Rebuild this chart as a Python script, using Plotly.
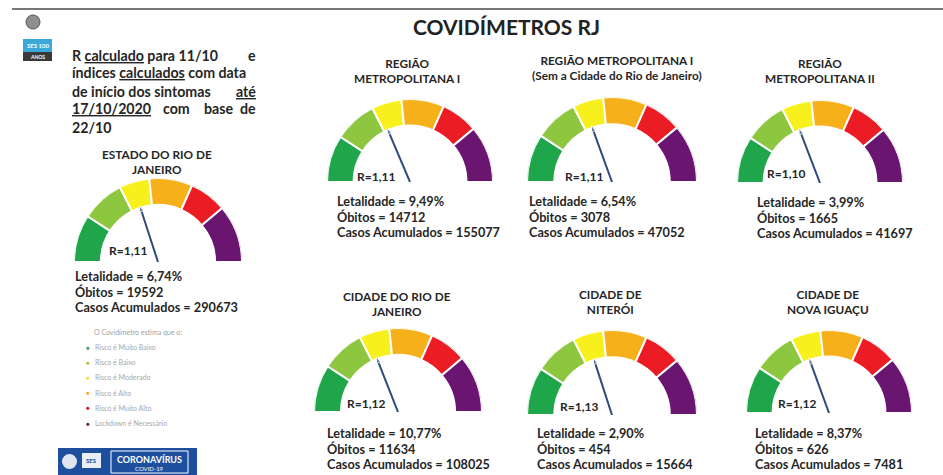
import plotly.graph_objects as go

W, H = 943, 475

# ---------------- data ----------------
titulos = [
    "ESTADO DO RIO DE<br>JANEIRO",
    "REGIÃO<br>METROPOLITANA I",
    "REGIÃO METROPOLITANA I<br>(Sem a Cidade do Rio de Janeiro)",
    "REGIÃO<br>METROPOLITANA II",
    "CIDADE DO RIO DE<br>JANEIRO",
    "CIDADE DE<br>NITERÓI",
    "CIDADE DE<br>NOVA IGUAÇU",
]
r_valores = [1.11, 1.11, 1.11, 1.10, 1.12, 1.13, 1.12]
letalidade = [6.74, 9.49, 6.54, 3.99, 10.77, 2.90, 8.37]
obitos = [19592, 14712, 3078, 1665, 11634, 454, 626]
casos = [290673, 155077, 47052, 41697, 108025, 15664, 7481]
ponteiro_graus = [108, 113, 110, 111, 111.5, 108, 110]  # needle direction

faixas = ["Risco é Muito Baixo", "Risco é Baixo", "Risco é Moderado",
          "Risco é Alto", "Risco é Muito Alto", "Lockdown é Necessário"]
faixa_inicio = [180, 147, 117, 96, 66, 40]
faixa_fim = [147, 117, 96, 66, 40, 0]

# ---------------- styles / layout ----------------
cores = ["#1fa64a", "#8dc63f", "#f8f01c", "#f6b11a", "#ec1c24", "#6a1570"]
cores_legenda = ["#2a9d6a", "#9bc53d", "#f1e53a", "#f5a623", "#d0021b", "#3c1a4a"]
FONT = "Lato"
TXT = "#262626"

# gauge geometry: (cx, cy, R, title_x, title_y(mid), stats_x, stats_y(first), rlab_x, rlab_y)
geo = [
    (158, 262, 84, 157, 162, 73, 276, 128, 250),
    (410, 182, 83, 407, 71, 335, 201, 376, 176),
    (612, 182, 85, 617, 68, 527, 201, 584, 176),
    (820, 183, 83, 820, 71, 755, 202, 786, 173),
    (398, 412, 84, 397, 304, 325, 433, 366, 403),
    (612, 415, 85, 610, 302, 535, 433, 579, 406),
    (829, 413, 83, 828, 302, 753, 433, 797, 403),
]
LINE_STEP = 15.5


def px(x):
    return x / W


def py(y):
    return 1 - y / H


def fmt(v, d=2):
    return f"{v:.{d}f}".replace(".", ",")


fig = go.Figure()
annotations = []
shapes = []

centros = [(a + b) / 2 for a, b in zip(faixa_inicio, faixa_fim)]
larguras = [a - b for a, b in zip(faixa_inicio, faixa_fim)]

for i, (cx, cy, R, tx, ty, sx, sy, rx, ry) in enumerate(geo):
    pname = "polar" if i == 0 else f"polar{i+1}"
    fig.add_trace(go.Barpolar(
        r=[0.32] * len(faixas), base=[0.68] * len(faixas),
        theta=centros, width=larguras,
        marker=dict(color=cores, line=dict(color="white", width=2)),
        name="", showlegend=False, hoverinfo="skip", subplot=pname,
    ))
    a = ponteiro_graus[i]
    fig.add_trace(go.Scatterpolar(
        r=[0, 0.71], theta=[a, a], mode="lines+markers",
        line=dict(color="#2e4b7d", width=2),
        marker=dict(symbol="arrow", size=[0, 7], color="#2e4b7d", angleref="previous"),
        showlegend=False, hoverinfo="skip", subplot=pname,
    ))
    fig.update_layout(**{pname: dict(
        domain=dict(x=[px(cx - R), px(cx + R)], y=[py(cy), py(cy - R)]),
        sector=[0, 180], bgcolor="rgba(0,0,0,0)",
        radialaxis=dict(visible=False, range=[0, 1]),
        angularaxis=dict(visible=False),
    )})
    annotations.append(dict(x=px(tx), y=py(ty), text=f"<b>{titulos[i]}</b>",
                            xanchor="center", yanchor="middle", showarrow=False,
                            font=dict(family=FONT, size=11.8, color=TXT), align="center"))
    linhas = [f"<b>Letalidade = {fmt(letalidade[i])}%</b>",
              f"<b>Óbitos = {obitos[i]}</b>",
              f"<b>Casos Acumulados = {casos[i]}</b>"]
    for k, t in enumerate(linhas):
        annotations.append(dict(x=px(sx), y=py(sy + LINE_STEP * k), text=t,
                                xanchor="left", yanchor="middle", showarrow=False,
                                font=dict(family=FONT, size=12.7, color=TXT)))
    annotations.append(dict(x=px(rx), y=py(ry), text=f"<b>R={fmt(r_valores[i])}</b>",
                            xanchor="center", yanchor="middle", showarrow=False,
                            font=dict(family=FONT, size=12, color=TXT)))

# main title
annotations.append(dict(x=px(506), y=py(26), text="<b>COVIDÍMETROS RJ</b>",
                        xanchor="center", yanchor="middle", showarrow=False,
                        font=dict(family=FONT, size=21, color="#222")))

# left paragraph (justified by hand)
pf = dict(family=FONT, size=14.2, color=TXT)
par = [
    (70, 55, "left", "<b>R <u>calculado</u> para 11/10</b>"),
    (258, 55, "right", "<b>e</b>"),
    (70, 73, "left", "<b>índices <u>calculados</u> com data</b>"),
    (70, 91, "left", "<b>de início dos sintomas</b>"),
    (258, 91, "right", "<b><u>até</u></b>"),
    (70, 109, "left", "<b><u>17/10/2020</u></b>"),
    (176, 109, "center", "<b>com</b>"),
    (218, 109, "center", "<b>base</b>"),
    (258, 109, "right", "<b>de</b>"),
    (70, 127, "left", "<b>22/10</b>"),
]
for x, y, anc, t in par:
    annotations.append(dict(x=px(x), y=py(y), text=t, xanchor=anc, yanchor="middle",
                            showarrow=False, font=pf))

# small legend bottom-left
annotations.append(dict(x=px(138), y=py(332), text="O Covidímetro estima que o:",
                        xanchor="center", yanchor="middle", showarrow=False,
                        font=dict(family=FONT, size=7, color="#a0a0a0")))
for k, nome in enumerate(faixas):
    yy = 347 + 15.2 * k
    annotations.append(dict(x=px(88), y=py(yy), text="●", xanchor="center", yanchor="middle",
                            showarrow=False, font=dict(family=FONT, size=6, color=cores_legenda[k])))
    annotations.append(dict(x=px(93), y=py(yy), text=nome, xanchor="left", yanchor="middle",
                            showarrow=False, font=dict(family=FONT, size=7, color="#a8a8a8")))

# top rule
shapes.append(dict(type="line", xref="paper", yref="paper", x0=px(12), x1=px(943),
                   y0=py(9), y1=py(9), line=dict(color="#4a4a4a", width=1.5)))
# top-left emblem + logo
shapes.append(dict(type="circle", xref="paper", yref="paper", x0=px(26), x1=px(40),
                   y0=py(29), y1=py(15), fillcolor="#8f8f8f", line=dict(color="#555", width=1)))
shapes.append(dict(type="rect", xref="paper", yref="paper", x0=px(23), x1=px(52),
                   y0=py(52), y1=py(39), fillcolor="#3aa8d8", line=dict(width=0)))
shapes.append(dict(type="rect", xref="paper", yref="paper", x0=px(23), x1=px(52),
                   y0=py(61), y1=py(52), fillcolor="#3a3a3a", line=dict(width=0)))
annotations.append(dict(x=px(37.5), y=py(45.5), text="<b>SES 100</b>", showarrow=False,
                        xanchor="center", yanchor="middle",
                        font=dict(family=FONT, size=6, color="white")))
annotations.append(dict(x=px(37.5), y=py(56.5), text="<b>ANOS</b>", showarrow=False,
                        xanchor="center", yanchor="middle",
                        font=dict(family=FONT, size=5, color="white")))

# bottom logo banner
shapes.append(dict(type="rect", xref="paper", yref="paper", x0=px(58), x1=px(197),
                   y0=py(475), y1=py(448), fillcolor="#1d4f9e", line=dict(width=0)))
shapes.append(dict(type="circle", xref="paper", yref="paper", x0=px(62), x1=px(77),
                   y0=py(469), y1=py(454), fillcolor="#dfe6f1", line=dict(width=0)))
shapes.append(dict(type="rect", xref="paper", yref="paper", x0=px(82), x1=px(101),
                   y0=py(468), y1=py(453), fillcolor="#e9eef7", line=dict(width=0)))
shapes.append(dict(type="rect", xref="paper", yref="paper", x0=px(111), x1=px(188),
                   y0=py(473), y1=py(451), fillcolor="rgba(0,0,0,0)",
                   line=dict(color="white", width=1)))
annotations.append(dict(x=px(91.5), y=py(460.5), text="<b>SES</b>", showarrow=False,
                        xanchor="center", yanchor="middle",
                        font=dict(family=FONT, size=6, color="#1d4f9e")))
annotations.append(dict(x=px(149.5), y=py(459), text="<b>CORONAVÍRUS</b>", showarrow=False,
                        xanchor="center", yanchor="middle",
                        font=dict(family=FONT, size=9, color="white")))
annotations.append(dict(x=px(149.5), y=py(468.5), text="COVID-19", showarrow=False,
                        xanchor="center", yanchor="middle",
                        font=dict(family=FONT, size=6, color="white")))

fig.update_layout(
    width=W, height=H, margin=dict(l=0, r=0, t=0, b=0),
    paper_bgcolor="white", plot_bgcolor="white",
    annotations=annotations, shapes=shapes, showlegend=False,
)

fig.write_html("out.html", config={"displayModeBar": False},
               post_script="document.body.style.margin='0';document.body.style.padding='0';"
                           "document.body.style.overflow='hidden';")
